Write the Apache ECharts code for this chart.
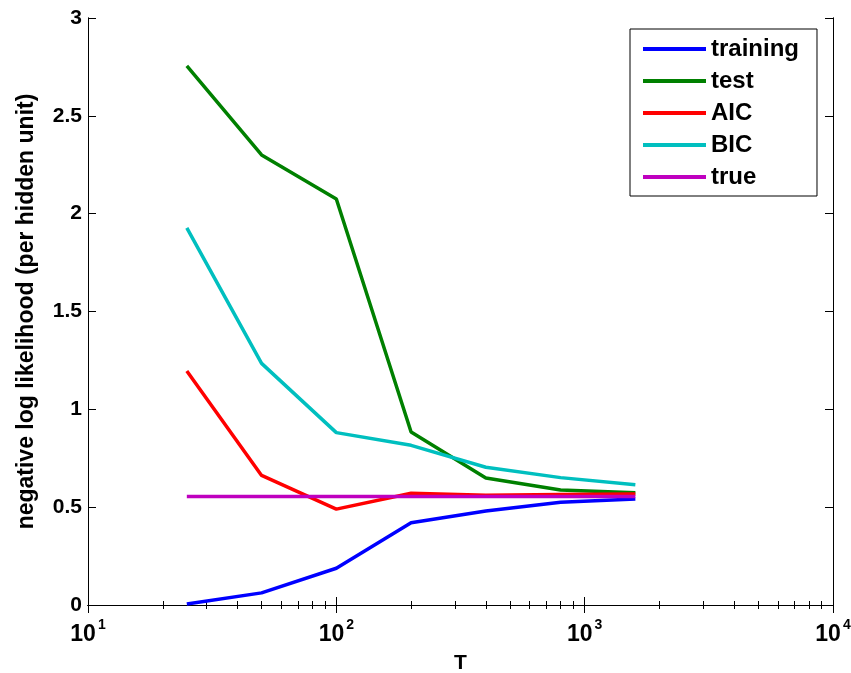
<!DOCTYPE html>
<html>
<head>
<meta charset="utf-8">
<script src="https://cdn.jsdelivr.net/npm/echarts@6/dist/echarts.min.js"></script>
<style>
  html, body { margin: 0; padding: 0; background: #fff; }
  #chart { width: 851px; height: 673px; }
</style>
</head>
<body>
<div id="chart"></div>
<script>
// sample sizes T and curves
var T = [25, 50, 100, 200, 400, 800, 1600];
var training = [0.005, 0.062, 0.188, 0.42, 0.48, 0.525, 0.542];
var test = [2.755, 2.30, 2.075, 0.884, 0.649, 0.588, 0.574];
var aic = [1.196, 0.662, 0.49, 0.571, 0.561, 0.565, 0.567];
var bic = [1.927, 1.235, 0.881, 0.816, 0.704, 0.651, 0.615];
var trueVals = [0.554, 0.554, 0.554, 0.554, 0.554, 0.554, 0.554];

var names = ['training', 'test', 'AIC', 'BIC', 'true'];
var colors = ['#0000ff', '#008000', '#ff0000', '#00bfbf', '#bf00bf'];
var values = [training, test, aic, bic, trueVals];

var FONT = 'Liberation Sans, Arial, Helvetica, sans-serif';

// minor ticks at 2..9 within each decade
var minorTicks = [];
[10, 100, 1000].forEach(function (d) {
  for (var k = 2; k <= 9; k++) minorTicks.push(k * d);
});

var chart = echarts.init(document.getElementById('chart'));

function pairs(ys) {
  return T.map(function (t, i) { return [t, ys[i]]; });
}

function logAxis(grid, pos, tickValues, len, labels) {
  var ax = {
    type: 'log', logBase: 10, min: 10, max: 10000,
    gridIndex: grid, position: pos,
    axisLine: { show: true, lineStyle: { color: '#000', width: 1 } },
    axisTick: { show: true, inside: true, length: len, lineStyle: { color: '#000' } },
    axisLabel: { show: false },
    splitLine: { show: false }
  };
  if (tickValues) ax.axisTick.customValues = tickValues;
  if (labels) {
    ax.axisLabel = {
      show: true, margin: 13, color: '#000', fontFamily: FONT,
      formatter: function (v) {
        return '{b|10}{s|' + Math.round(Math.log10(v)) + '}';
      },
      rich: {
        b: { fontSize: 23, fontWeight: 'bold', fontFamily: FONT, color: '#000', lineHeight: 28, verticalAlign: 'bottom' },
        s: { fontSize: 14, fontWeight: 'bold', fontFamily: FONT, color: '#000', lineHeight: 28, verticalAlign: 'top', padding: [0, 0, 0, 2] }
      }
    };
    ax.name = 'T';
    ax.nameLocation = 'middle';
    ax.nameGap = 48;
    ax.nameTextStyle = { fontSize: 21, fontWeight: 'bold', fontFamily: FONT, color: '#000' };
  }
  return ax;
}

function valAxis(grid, pos, labels) {
  var ax = {
    type: 'value', min: 0, max: 3, interval: 0.5,
    gridIndex: grid, position: pos,
    axisLine: { show: true, lineStyle: { color: '#000', width: 1 } },
    axisTick: { show: true, inside: true, length: 8, lineStyle: { color: '#000' } },
    axisLabel: { show: false },
    splitLine: { show: false }
  };
  if (labels) {
    ax.axisLabel = { show: true, margin: 6, fontSize: 21, fontWeight: 'bold', fontFamily: FONT, color: '#000' };
    ax.name = 'negative log likelihood (per hidden unit)';
    ax.nameLocation = 'middle';
    ax.nameGap = 50;
    ax.nameTextStyle = { fontSize: 23, fontWeight: 'bold', fontFamily: FONT, color: '#000' };
  }
  return ax;
}

var gridBox = { left: 88, right: 18, top: 18, bottom: 68, containLabel: false, outerBoundsMode: 'none' };

var option = {
  backgroundColor: '#fff',
  animation: false,
  grid: [gridBox, Object.assign({}, gridBox)],
  legend: {
    data: names,
    left: 630, top: 29,
    orient: 'vertical',
    padding: [8, 18, 7, 13],
    itemGap: 8,
    itemWidth: 63,
    itemHeight: 4,
    itemTextGap: 8,
    icon: 'rect',
    borderColor: '#000',
    borderWidth: 1,
    borderRadius: 0,
    backgroundColor: '#fff',
    textStyle: { fontSize: 24, fontWeight: 'bold', fontFamily: FONT, color: '#000' }
  },
  xAxis: [
    logAxis(0, 'bottom', null, 8, true),
    logAxis(0, 'top', null, 8, false),
    logAxis(1, 'bottom', minorTicks, 4, false),
    logAxis(1, 'top', minorTicks, 4, false)
  ],
  yAxis: [
    valAxis(0, 'left', true),
    valAxis(0, 'right', false),
    valAxis(1, 'left', false),
    valAxis(1, 'right', false)
  ],
  series: names.map(function (n, i) {
    return {
      name: n,
      type: 'line',
      xAxisIndex: 0,
      yAxisIndex: 0,
      data: pairs(values[i]),
      showSymbol: false,
      symbol: 'none',
      color: colors[i],
      lineStyle: { width: 3.5, color: colors[i] },
      z: 2 + i
    };
  })
};

chart.setOption(option);
</script>
</body>
</html>
